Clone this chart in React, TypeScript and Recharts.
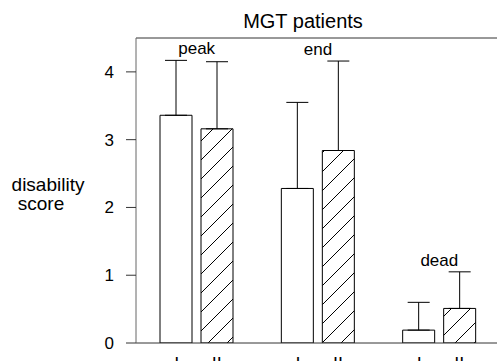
import React from "react";
import {
  ComposedChart,
  Bar,
  Line,
  XAxis,
  YAxis,
  ErrorBar,
  LabelList,
  ReferenceLine,
  Customized,
} from "recharts";

const groups = ["peak", "end", "dead"];
const meanI = [3.36, 2.28, 0.19];
const sdI = [0.81, 1.27, 0.41];
const meanII = [3.16, 2.84, 0.51];
const sdII = [0.99, 1.32, 0.54];
const yTicks = [0, 1, 2, 3, 4];

const FONT = "'Liberation Sans', Arial, sans-serif";

const data = groups.map((g, i) => ({
  group: g,
  I: meanI[i],
  II: meanII[i],
  errI: [0, sdI[i]],
  errII: [0, sdII[i]],
  labelTop: Math.max(meanI[i] + sdI[i], meanII[i] + sdII[i]),
}));

// "I" and "II" under each pair of bars
const PairTick = ({ x, y }: any) => (
  <g fontFamily={FONT} fontSize={18} fill="#000">
    <text x={x - 20} y={370} textAnchor="middle">
      I
    </text>
    <text x={x + 20} y={370} textAnchor="middle">
      II
    </text>
  </g>
);

const GroupLabel = ({ x, y, value }: any) => (
  <text
    x={x}
    y={y - 6}
    textAnchor="middle"
    fontFamily={FONT}
    fontSize={17}
    fill="#000"
  >
    {value}
  </text>
);

const Titles = () => (
  <g fontFamily={FONT} fill="#000">
    <text x={303} y={28} textAnchor="middle" fontSize={20}>
      MGT patients
    </text>
    <text x={48} y={191} textAnchor="middle" fontSize={19}>
      disability
    </text>
    <text x={41} y={210} textAnchor="middle" fontSize={19}>
      score
    </text>
  </g>
);

export default function App() {
  return (
    <div
      style={{
        position: "absolute",
        left: 0,
        top: 0,
        width: 497,
        height: 361,
        overflow: "hidden",
        background: "#fff",
      }}
    >
      <ComposedChart
        width={500}
        height={361}
        data={data}
        margin={{ top: 38, right: 0, left: 0, bottom: 0 }}
        barSize={32}
        barGap={9}
      >
        <defs>
          <pattern
            id="hatch"
            patternUnits="userSpaceOnUse"
            width={19}
            height={19}
          >
            <rect width={19} height={19} fill="#fff" />
            <path
              d="M0,19 L19,0 M-2,2 L2,-2 M17,21 L21,17"
              stroke="#000"
              strokeWidth={1}
            />
          </pattern>
        </defs>
        <XAxis
          dataKey="group"
          height={18}
          axisLine={{ stroke: "#333" }}
          tickLine={false}
          tick={<PairTick />}
          interval={0}
        />
        <YAxis
          width={136}
          domain={[0, 4.5]}
          ticks={yTicks}
          allowDataOverflow
          axisLine={{ stroke: "#666" }}
          tickLine={{ stroke: "#333" }}
          tickSize={10}
          tickMargin={12}
          tick={{ fontSize: 17, fill: "#000", fontFamily: FONT }}
        />
        <ReferenceLine y={4.5} stroke="#333" ifOverflow="visible" />
        <Bar
          dataKey="I"
          fill="#fff"
          stroke="#000"
          strokeWidth={1}
          isAnimationActive={false}
        >
          <ErrorBar
            dataKey="errI"
            width={11}
            stroke="#000"
            strokeWidth={1}
            isAnimationActive={false}
          />
        </Bar>
        <Bar
          dataKey="II"
          fill="url(#hatch)"
          stroke="#000"
          strokeWidth={1}
          isAnimationActive={false}
        >
          <ErrorBar
            dataKey="errII"
            width={11}
            stroke="#000"
            strokeWidth={1}
            isAnimationActive={false}
          />
        </Bar>
        <Line
          dataKey="labelTop"
          stroke="none"
          dot={false}
          activeDot={false}
          isAnimationActive={false}
        >
          <LabelList dataKey="group" content={<GroupLabel />} />
        </Line>
        <Customized component={Titles} />
      </ComposedChart>
    </div>
  );
}
